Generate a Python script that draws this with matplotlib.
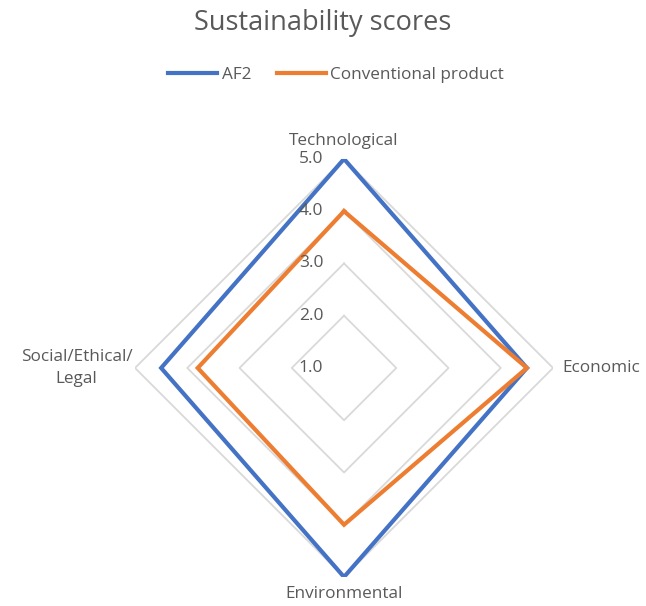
import matplotlib.pyplot as plt
import numpy as np

plt.rcParams['font.family'] = ['Open Sans', 'DejaVu Sans']

# chart data
categories = ['Technological', 'Economic', 'Environmental', 'Social/Ethical/\nLegal']
af2 = [5.0, 4.5, 5.0, 4.5]
conventional = [4.0, 4.5, 4.0, 3.8]
r_ticks = [1.0, 2.0, 3.0, 4.0, 5.0]
series_names = ['AF2', 'Conventional product']
colors = ['#4472C4', '#ED7D31']
text_color = '#595959'

fig = plt.figure(figsize=(6.46, 6.06), dpi=100)
ax = fig.add_axes([0.2090, 0.0479, 0.6471, 0.6898], projection='polar')
ax.set_theta_offset(np.pi / 2)
ax.set_theta_direction(-1)
ax.set_ylim(1, 5)

n = len(categories)
angles = np.linspace(0, 2 * np.pi, n, endpoint=False)
closed = np.append(angles, angles[0])

# diamond gridlines (excel style) instead of circles, no spokes
ax.grid(False)
ax.spines['polar'].set_visible(False)
ax.set_xticks([])
ax.set_yticks([])
for r in r_ticks[1:]:
    ax.plot(closed, [r] * (n + 1), color='#D9D9D9', lw=1.3, zorder=1)

# series
for vals, name, c in zip([af2, conventional], series_names, colors):
    ax.plot(closed, vals + vals[:1], color=c, lw=3, label=name, zorder=3,
            solid_joinstyle='miter')

# radial tick labels along the top spoke
for r in r_ticks:
    ax.annotate(f'{r:.1f}', xy=(0, r), xytext=(-15, 0), textcoords='offset points',
                ha='right', va='center', fontsize=12.5, color=text_color,
                annotation_clip=False, zorder=4)

# category labels
fs = 12.3
ax.text(angles[0], 5.2, categories[0], ha='center', va='bottom', fontsize=fs, color=text_color)
ax.text(angles[1], 5.17, categories[1], ha='left', va='center', fontsize=fs, color=text_color)
ax.text(angles[2], 5.17, categories[2], ha='center', va='top', fontsize=fs, color=text_color)
ax.text(angles[3], 5.05, categories[3], ha='right', va='center', fontsize=fs,
        color=text_color, multialignment='center', linespacing=1.5)

fig.suptitle('Sustainability scores', y=0.985, fontsize=19.5, color=text_color)
leg = fig.legend(loc='center', bbox_to_anchor=(0.52, 0.877), ncol=2, frameon=False,
                 fontsize=12.3, handlelength=2.9, columnspacing=1.5, handletextpad=0.25)
for t in leg.get_texts():
    t.set_color(text_color)

fig.savefig('out.png', dpi=100)
